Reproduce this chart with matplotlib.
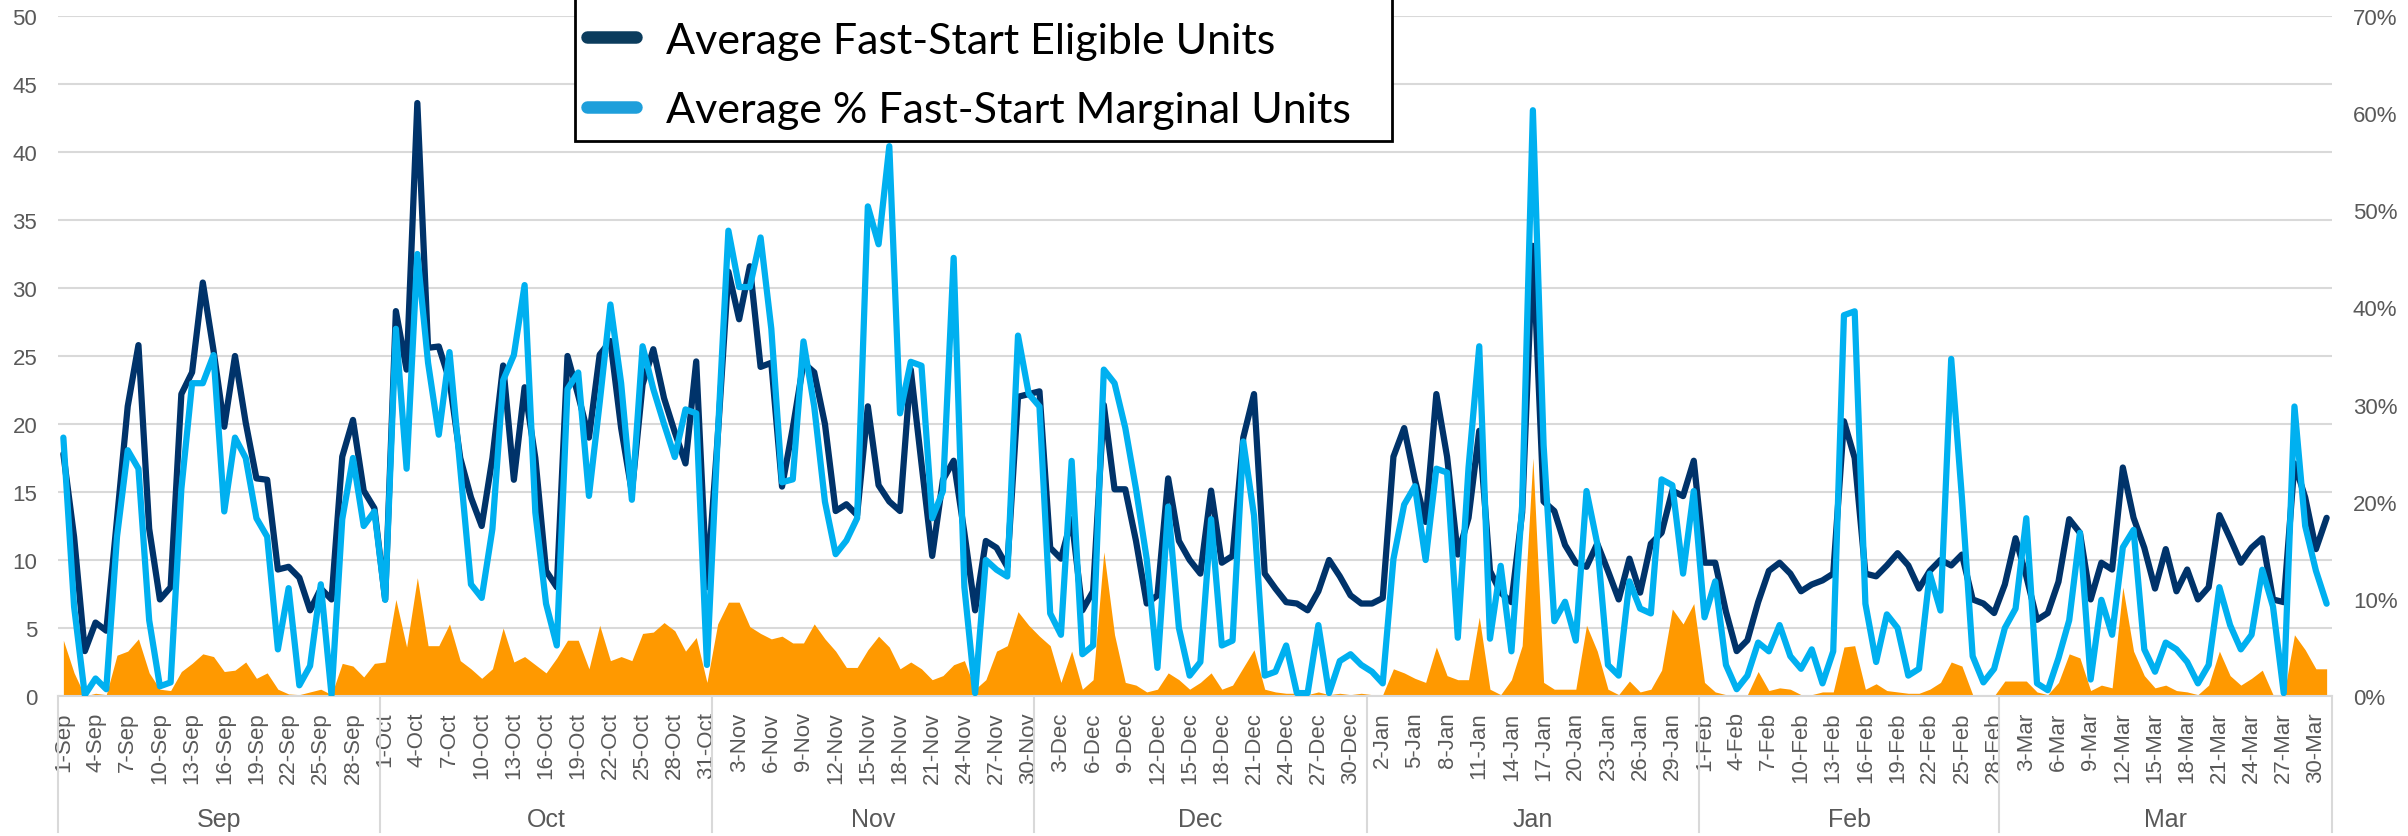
import numpy as np
import pandas as pd
import matplotlib
matplotlib.use('Agg')
import matplotlib.pyplot as plt
import matplotlib.transforms as mtransforms
from matplotlib.lines import Line2D
from matplotlib.patches import Rectangle
from matplotlib.ticker import FuncFormatter

plt.rcParams['font.family'] = ['Liberation Sans', 'DejaVu Sans']

# daily categories, 1-Sep .. 31-Mar
days = pd.date_range('2018-09-01', '2019-03-31', freq='D')
day_labels = [f'{d.day}-{d:%b}' for d in days]
month_names = ['Sep', 'Oct', 'Nov', 'Dec', 'Jan', 'Feb', 'Mar']

# Average Fast-Start Eligible Units (left axis)
eligible = [
    17.8, 11.7, 3.3, 5.4, 4.8, 13.0, 21.3, 25.8, 12.3, 7.1,
    8.0, 22.2, 23.8, 30.4, 25.4, 19.8, 25.0, 20.1, 16.0, 15.9,
    9.3, 9.5, 8.7, 6.3, 7.9, 7.1, 17.6, 20.3, 15.1, 13.8,
    # Oct
    7.1, 28.3, 24.0, 43.6, 25.6, 25.7, 23.2, 17.5, 14.6, 12.5,
    17.5, 24.3, 15.9, 22.7, 17.5, 9.2, 8.0, 25.0, 22.1, 19.0,
    25.1, 26.1, 19.7, 15.0, 22.9, 25.5, 21.9, 19.4, 17.1, 24.6,
    8.0,
    # Nov
    19.0, 31.2, 27.7, 31.6, 24.2, 24.5, 15.4, 19.7, 24.5, 23.8,
    20.0, 13.6, 14.1, 13.3, 21.3, 15.5, 14.3, 13.6, 24.0, 17.1,
    10.3, 15.9, 17.3, 12.0, 6.3, 11.4, 10.9, 9.5, 22.0, 22.2,
    # Dec
    22.4, 10.9, 10.1, 13.0, 6.3, 7.7, 21.4, 15.2, 15.2, 11.4,
    6.8, 7.4, 16.0, 11.4, 10.0, 9.0, 15.1, 9.8, 10.3, 19.0,
    22.2, 9.0, 7.9, 6.9, 6.8, 6.3, 7.7, 10.0, 8.8, 7.4,
    6.8,
    # Jan
    6.8, 7.2, 17.6, 19.7, 15.9, 12.8, 22.2, 17.6, 10.4, 13.1,
    19.5, 9.2, 7.6, 6.9, 13.5, 33.1, 14.3, 13.6, 11.1, 9.8,
    9.5, 11.2, 9.2, 7.1, 10.1, 7.6, 11.2, 12.0, 15.1, 14.7,
    17.3,
    # Feb
    9.8, 9.8, 6.2, 3.3, 4.1, 6.9, 9.2, 9.8, 9.0, 7.7,
    8.2, 8.5, 9.0, 20.2, 17.5, 9.0, 8.8, 9.6, 10.5, 9.6,
    7.9, 9.2, 10.0, 9.6, 10.4, 7.1, 6.8, 6.1,
    # Mar
    8.2, 11.6, 8.8, 5.6, 6.1, 8.4, 13.0, 12.0, 7.1, 9.8,
    9.3, 16.8, 13.1, 10.9, 7.9, 10.8, 7.7, 9.3, 7.1, 8.0,
    13.3, 11.6, 9.8, 10.9, 11.6, 7.1, 6.9, 17.1, 14.6, 10.8,
    13.1,
]

# Average % Fast-Start Marginal Units (right axis, %)
marginal_pct = [
    26.6, 9.2, 0.1, 1.8, 0.7, 16.4, 25.3, 23.4, 7.8, 1.0,
    1.4, 21.3, 32.2, 32.2, 35.1, 19.0, 26.6, 24.5, 18.3, 16.4,
    4.8, 11.1, 1.1, 3.1, 11.5, 0.1, 18.2, 24.5, 17.5, 19.0,
    # Oct
    9.9, 37.8, 23.4, 45.5, 34.3, 26.9, 35.4, 23.5, 11.5, 10.1,
    17.2, 32.5, 35.1, 42.3, 18.9, 9.5, 5.2, 31.6, 33.3, 20.6,
    30.2, 40.3, 32.2, 20.2, 36.0, 31.6, 28.0, 24.6, 29.5, 29.1,
    3.2,
    # Nov
    26.6, 47.9, 42.1, 42.1, 47.2, 37.8, 22.0, 22.3, 36.5, 29.8,
    20.0, 14.6, 16.0, 18.3, 50.4, 46.5, 56.6, 29.1, 34.4, 34.0,
    18.3, 21.1, 45.1, 11.2, 0.3, 14.0, 13.0, 12.3, 37.1, 31.1,
    # Dec
    29.8, 8.5, 6.3, 24.2, 4.3, 5.2, 33.6, 32.2, 27.6, 21.3,
    14.1, 2.9, 19.5, 7.0, 2.1, 3.5, 18.2, 5.2, 5.7, 26.2,
    18.6, 2.1, 2.5, 5.2, 0.3, 0.3, 7.3, 0.3, 3.6, 4.3,
    3.2,
    # Jan
    2.5, 1.3, 14.1, 19.7, 21.6, 14.0, 23.4, 23.0, 6.0, 23.5,
    36.0, 5.9, 13.4, 4.6, 19.6, 60.3, 25.8, 7.7, 9.7, 5.7,
    21.1, 15.7, 3.2, 2.1, 11.8, 9.0, 8.5, 22.3, 21.7, 12.6,
    21.1,
    # Feb
    8.1, 11.8, 3.2, 0.7, 2.1, 5.5, 4.6, 7.3, 4.1, 2.8,
    4.8, 1.3, 4.6, 39.2, 39.6, 9.5, 3.5, 8.4, 7.0, 2.1,
    2.8, 12.6, 8.8, 34.7, 20.4, 4.1, 1.4, 2.8,
    # Mar
    7.0, 9.0, 18.3, 1.3, 0.6, 3.9, 7.8, 16.8, 1.7, 9.9,
    6.3, 15.3, 17.1, 4.8, 2.5, 5.5, 4.8, 3.5, 1.3, 3.2,
    11.2, 7.3, 4.8, 6.3, 13.0, 9.2, 0.3, 29.8, 17.5, 12.9,
    9.5,
]

# orange area (left axis)
orange_area = [
    4.1, 1.7, 0.0, 0.2, 0.1, 3.0, 3.3, 4.2, 1.7, 0.5,
    0.4, 1.8, 2.4, 3.1, 2.9, 1.8, 1.9, 2.5, 1.3, 1.7,
    0.5, 0.15, 0.1, 0.3, 0.5, 0.1, 2.4, 2.2, 1.4, 2.4,
    # Oct
    2.5, 7.1, 3.6, 8.7, 3.7, 3.7, 5.3, 2.6, 2.0, 1.3,
    2.0, 5.0, 2.5, 2.9, 2.3, 1.7, 2.8, 4.1, 4.1, 2.0,
    5.2, 2.6, 2.9, 2.6, 4.6, 4.7, 5.4, 4.8, 3.3, 4.3,
    1.0,
    # Nov
    5.3, 6.9, 6.9, 5.1, 4.6, 4.2, 4.4, 3.9, 3.9, 5.3,
    4.2, 3.3, 2.1, 2.1, 3.4, 4.4, 3.6, 2.0, 2.5, 2.0,
    1.2, 1.5, 2.3, 2.6, 0.5, 1.2, 3.3, 3.7, 6.2, 5.2,
    # Dec
    4.4, 3.7, 1.0, 3.3, 0.5, 1.2, 10.6, 4.5, 1.0, 0.8,
    0.3, 0.5, 1.7, 1.2, 0.5, 1.0, 1.7, 0.5, 0.8, 2.1,
    3.4, 0.5, 0.3, 0.2, 0.2, 0.1, 0.3, 0.1, 0.2, 0.1,
    0.2,
    # Jan
    0.1, 0.1, 2.0, 1.7, 1.3, 1.0, 3.6, 1.5, 1.2, 1.2,
    5.8, 0.5, 0.1, 1.2, 3.7, 17.5, 1.0, 0.5, 0.5, 0.5,
    5.2, 3.3, 0.5, 0.1, 1.1, 0.3, 0.5, 1.9, 6.4, 5.3,
    6.8,
    # Feb
    1.0, 0.3, 0.1, 0.1, 0.1, 1.8, 0.4, 0.6, 0.5, 0.1,
    0.1, 0.3, 0.3, 3.6, 3.7, 0.5, 0.9, 0.4, 0.3, 0.2,
    0.2, 0.5, 1.0, 2.5, 2.2, 0.1, 0.1, 0.0,
    # Mar
    1.1, 1.1, 1.1, 0.3, 0.1, 1.0, 3.1, 2.8, 0.4, 0.8,
    0.6, 8.0, 3.3, 1.5, 0.6, 0.8, 0.4, 0.3, 0.1, 0.8,
    3.3, 1.5, 0.8, 1.3, 1.9, 0.1, 0.0, 4.5, 3.4, 2.0,
    2.0,
]

assert len(eligible) == len(marginal_pct) == len(orange_area) == len(days)

x = np.arange(len(days))
grey = '#595959'
grid_c = '#D9D9D9'

W, H = 2408, 837
fig = plt.figure(figsize=(W / 100, H / 100), dpi=100)
ax = fig.add_axes([58 / W, 1 - 697 / H, (2332 - 58) / W, (697 - 17) / H])

ax.fill_between(x, 0, orange_area, color='#FF9900', lw=0, zorder=2)
ax.plot(x, eligible, color='#00336A', lw=4.5, solid_joinstyle='round',
        solid_capstyle='round', zorder=3)

ax.set_xlim(-0.5, len(days) - 0.5)
ax.set_ylim(0, 50)
ax.set_yticks(range(0, 51, 5))
ax.grid(axis='y', color=grid_c, lw=1.5)
ax.set_axisbelow(True)
for s in ['top', 'left', 'right']:
    ax.spines[s].set_visible(False)
ax.spines['bottom'].set_color(grid_c)
ax.spines['bottom'].set_linewidth(1.5)
ax.tick_params(axis='y', length=0, pad=15, labelsize=16, labelcolor=grey)
ax.set_xticks(x[::3])
ax.set_xticklabels(day_labels[::3], rotation=90, fontsize=16, color=grey)
ax.tick_params(axis='x', length=0, pad=11)

ax2 = ax.twinx()
ax2.plot(x, marginal_pct, color='#00B0F0', lw=4.5, solid_joinstyle='round',
         solid_capstyle='round')
ax2.set_ylim(0, 70)
ax2.set_yticks(range(0, 71, 10))
ax2.yaxis.set_major_formatter(FuncFormatter(lambda v, p: f'{v:.0f}%'))
ax2.tick_params(axis='y', length=0, pad=15, labelsize=16, labelcolor=grey)
for s in ax2.spines.values():
    s.set_visible(False)

# month groups under the date labels
trans = mtransforms.blended_transform_factory(ax.transData, ax.transAxes)
month_idx = np.array([d.month for d in days])
bounds = [-0.5]
for m in [9, 10, 11, 12, 1, 2, 3]:
    idx = x[month_idx == m]
    bounds.append(idx[-1] + 0.5)
    ax.text(idx.mean(), -0.181, month_names[len(bounds) - 2], transform=trans,
            ha='center', va='center', fontsize=18, color=grey,
            family=['Liberation Sans Narrow', 'Liberation Sans'])
for b in bounds:
    ax.plot([b, b], [0, -0.2], transform=trans, color=grid_c, lw=1.5,
            clip_on=False)

# legend box runs off the top of the figure, as in the original
box = Rectangle((575 / W, 1 - 142 / H), (1392 - 575) / W, 160 / H,
                transform=fig.transFigure, facecolor='white', edgecolor='black',
                lw=2, clip_on=False, zorder=4.5)
ax2.add_artist(box)

handles = [Line2D([], [], color='#0B3C5D', lw=9, solid_capstyle='round'),
           Line2D([], [], color='#1E9FDB', lw=9, solid_capstyle='round')]
leg = ax2.legend(handles, ['Average Fast-Start Eligible Units',
                           'Average % Fast-Start Marginal Units'],
                 loc='lower left', bbox_to_anchor=(575 / W, 1 - 142 / H),
                 bbox_transform=fig.transFigure, prop={'family': 'Lato', 'size': 31},
                 frameon=False, borderpad=0.28, labelspacing=0.73,
                 handlelength=1.14, handletextpad=0.7, borderaxespad=0)
leg.set_zorder(5)

fig.savefig('out.png', dpi=100)
